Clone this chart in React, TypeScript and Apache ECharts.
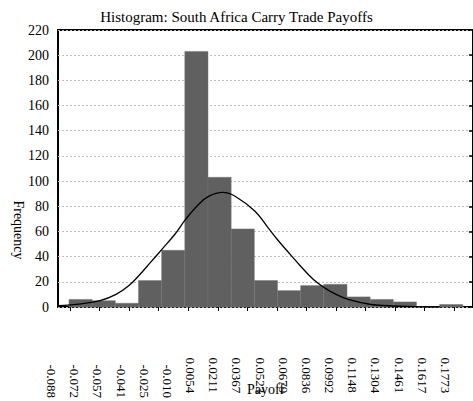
import React, { useEffect, useRef } from "react";
import * as echarts from "echarts";

// Bin edge labels (18 edges for 17 bins)
const binLabels = [
  "-0.088", "-0.072", "-0.057", "-0.041", "-0.025", "-0.010", "0.0054", "0.0211", "0.0367",
  "0.0523", "0.0679", "0.0836", "0.0992", "0.1148", "0.1304", "0.1461", "0.1617", "0.1773",
];
// Frequency per bin
const binCounts = [6, 5, 3, 21, 45, 203, 103, 62, 21, 13, 17, 18, 8, 6, 4, 0, 2];

// Fitted normal curve (x in bin units from the first edge)
const curveX = [-0.475, 0.52, 1.34, 2.03, 2.59, 3.02, 3.5, 4.02, 4.58, 5.01, 5.57, 6.04, 6.64, 7.17, 8.03, 8.59, 9.02, 9.54, 9.97, 10.54, 11.05, 11.53, 12.05, 13.04, 14.03, 15.16, 16.0];
const curveY = [1.0, 2.5, 5, 10, 17, 25, 35, 46, 58, 69, 81, 88, 91, 88, 76, 63, 53, 42, 33, 22, 15, 10, 6, 2, 0.8, 0.2, 0];

// Axis ticks along the x axis (bin units)
const xTickStart = 0.043;
const xTickStep = 1.276;
const xTickCount = 14;

const yMin = 0;
const yMax = 220;
const yStep = 20;

const FONT = "Liberation Serif";

export default function App() {
  const ref = useRef<HTMLDivElement>(null);

  useEffect(() => {
    if (!ref.current) return;
    const chart = echarts.init(ref.current, null, { renderer: "svg" });
    const xTicks: number[] = [];
    for (let k = 0; k < xTickCount; k++) xTicks.push(xTickStart + k * xTickStep);

    const option: any = {
      animation: false,
      backgroundColor: "#fff",
      title: {
        text: "Histogram: South Africa Carry Trade Payoffs",
        left: "center",
        top: 4,
        textStyle: { fontFamily: FONT, fontSize: 15, fontWeight: "normal", color: "#000" },
      },
      graphic: [
        {
          type: "text",
          x: 18,
          y: 230,
          rotation: -Math.PI / 2,
          style: {
            text: "Frequency",
            fontFamily: FONT,
            fontSize: 14,
            fill: "#000",
            align: "center",
            verticalAlign: "middle",
          },
        },
      ],
      grid: [
        { left: 58, right: 0, top: 30, bottom: 94, show: true, borderColor: "#000", borderWidth: 2, backgroundColor: "transparent" },
        { left: 40, width: 417, top: 30, bottom: 94, show: false },
      ],
      xAxis: [
        {
          type: "value",
          gridIndex: 0,
          min: -0.475,
          max: 17.44,
          axisLine: { show: false },
          axisLabel: { show: false },
          splitLine: { show: false },
          axisTick: {
            show: true,
            inside: false,
            length: 4,
            customValues: xTicks,
            lineStyle: { color: "#000", width: 1 },
          },
          name: "Payoff",
          nameLocation: "middle",
          nameGap: 75,
          nameTextStyle: { fontFamily: FONT, fontSize: 14, color: "#000" },
        },
        {
          type: "category",
          gridIndex: 1,
          data: binLabels,
          boundaryGap: true,
          axisLine: { show: false },
          axisTick: { show: false },
          splitLine: { show: false },
          axisLabel: {
            interval: 0,
            rotate: -90,
            margin: 53,
            fontFamily: FONT,
            fontSize: 13,
            color: "#000",
            formatter: (v: string) => (v.charAt(0) === "-" ? `{n|${v}}` : `{p|${v}}`),
            rich: {
              n: { fontFamily: FONT, fontSize: 13, color: "#000", padding: [0, 0, 0, 7] },
              p: { fontFamily: FONT, fontSize: 13, color: "#000" },
            },
          },
        },
      ],
      yAxis: [
        {
          type: "value",
          gridIndex: 0,
          min: yMin,
          max: yMax,
          interval: yStep,
          axisLine: { show: false },
          axisTick: { show: false },
          axisLabel: { margin: 9, fontFamily: FONT, fontSize: 14, color: "#000" },
          splitLine: { show: true, lineStyle: { color: "#bdbdbd", type: [2, 2], width: 1 } },
        },
        {
          type: "value",
          gridIndex: 0,
          position: "right",
          min: yMin,
          max: yMax,
          interval: yStep,
          axisLine: { show: false },
          axisTick: { show: true, inside: true, length: 4, lineStyle: { color: "#000", width: 1.5 } },
          axisLabel: { show: false },
          splitLine: { show: false },
        },
        {
          type: "value",
          gridIndex: 1,
          min: yMin,
          max: yMax,
          show: false,
        },
      ],
      series: [
        {
          type: "custom",
          xAxisIndex: 0,
          yAxisIndex: 0,
          data: binCounts.map((c, i) => [i, c]),
          encode: { x: 0, y: 1 },
          renderItem: (params: any, api: any) => {
            const i = api.value(0);
            const v = api.value(1);
            const p0 = api.coord([i, v]);
            const p1 = api.coord([i + 1, 0]);
            return {
              type: "rect",
              shape: { x: p0[0], y: p0[1], width: p1[0] - p0[0], height: p1[1] - p0[1] },
              style: { fill: "#606060", stroke: "#747474", lineWidth: 0.5 },
            };
          },
          z: 2,
        },
        {
          type: "line",
          xAxisIndex: 0,
          yAxisIndex: 0,
          data: curveX.map((x, i) => [x, curveY[i]]),
          smooth: 0.4,
          showSymbol: false,
          symbol: "none",
          lineStyle: { color: "#000", width: 1.3 },
          z: 3,
        },
      ],
    };
    chart.setOption(option);
    return () => chart.dispose();
  }, []);

  return (
    <div
      ref={ref}
      style={{ position: "fixed", left: 0, top: 0, width: 473, height: 401, background: "#fff" }}
    />
  );
}
